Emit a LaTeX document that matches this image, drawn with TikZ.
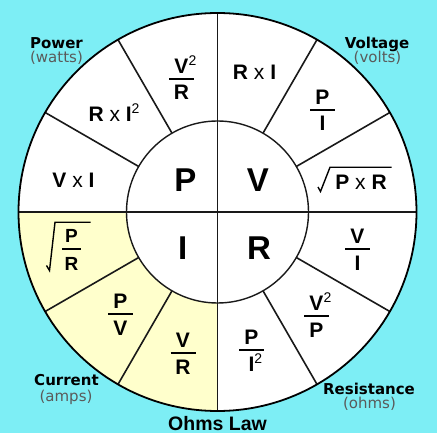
\documentclass[tikz,border=0pt]{standalone}
\usepackage{fontspec}
\setmainfont{Liberation Sans}
\newfontfamily\dv{DejaVu Sans}
\definecolor{bgc}{RGB}{125,238,245}
\definecolor{yel}{RGB}{255,255,204}
\definecolor{subc}{RGB}{90,90,90}
\definecolor{linec}{RGB}{25,25,25}
\newcommand\sq{{\fontsize{14}{14}\selectfont\mdseries\raisebox{8pt}{2}}}
\newcommand\xx{{\mdseries x}}
\newcommand\frc[6]{%
  \node[fnum] (#1n) at (#2,#3-5.5) {#4};
  \node[fnum] (#1d) at (#2,#3+21) {#5};
  \draw[fbar] (#2-#6,#3) -- (#2+#6,#3);}
\begin{document}
\begin{tikzpicture}[x=1pt,y=-1pt,
  big/.style={font=\fontsize{33}{33}\selectfont\bfseries, anchor=base, inner sep=0pt},
  fnum/.style={font=\fontsize{21}{21}\selectfont\bfseries, anchor=base, inner sep=0pt},
  fsmall/.style={font=\fontsize{19}{19}\selectfont\bfseries, anchor=base, inner sep=0pt},
  fbar/.style={line width=1.6pt, draw=black},
  lab/.style={font=\dv\fontsize{15}{15}\selectfont\bfseries, anchor=base, inner sep=0pt},
  sub/.style={font=\dv\fontsize{15}{15}\selectfont, text=subc, anchor=base, inner sep=0pt},
  ttl/.style={font=\fontsize{19.5}{20}\selectfont\bfseries, anchor=base, inner sep=0pt},
  rad/.style={line width=1.6pt, draw=linec},
  radl/.style={line width=1.4pt, draw=black},
  ]
\useasboundingbox (0,0) rectangle (437,433);
\fill[bgc] (0,0) rectangle (437,433);
\coordinate (C) at (217.5,212);
\fill[white] (C) circle[radius=199];
\fill[yel] (C) -- ++(90:199) arc[start angle=90,end angle=180,radius=199] -- cycle;
\fill[white] (C) circle[radius=91];
\foreach \a in {30,60,120,150,210,240,300,330}
  \draw[rad] (C) ++(\a:91) -- ++(\a:108);
\draw[line width=1.4pt, draw=linec] (C) circle[radius=91];
\draw[line width=1.5pt, draw=linec] (C) ++(-199,0) -- ++(398,0);
\draw[line width=1.5pt, draw=linec] (C) ++(0,-199) -- ++(0,398);
\draw[line width=1.8pt, draw=black] (C) circle[radius=199];
% centre letters
\node[big] (P) at (185.5,191.5) {P};
\node[big] (V) at (258,191.5) {V};
\node[big] (I) at (182.7,259.5) {I};
\node[big] (R) at (259,259.5) {R};
% power
\frc{pa}{181.5}{79}{V\rlap{\sq}}{R}{12.5}
\node[fnum] (pb) at (114,122) {R \xx\ I\sq};
\node[fnum] (pc) at (73.5,187.7) {V \xx\ I};
% voltage
\node[fnum] (va) at (254.5,80) {R \xx\ I};
\frc{vb}{322.5}{110}{P}{I}{12.5}
\node[fnum] (vc) at (361,189.3) {P \xx\ R};
\draw[radl] (318,187) -- (320.5,191.5) -- (330,167.3) -- (391.5,167.3);
% current
\node[fsmall] (can) at (71.5,242.7) {P};
\node[fsmall] (cad) at (71.5,270) {R};
\draw[fbar] (62,249) -- (81,249);
\draw[radl] (46.5,265.5) -- (49.5,270.5) -- (55,222.3) -- (90.7,222.3);
\frc{cb}{120.5}{314}{P}{V}{12.5}
\frc{cc}{183}{353}{V}{R}{12.5}
% resistance
\frc{ra}{357.5}{249}{V}{I}{12.5}
\frc{rb}{316.5}{316}{V\rlap{\sq}}{P}{12.5}
\frc{rc}{251.5}{350}{P}{I\rlap{\sq}}{12.5}
% labels
\node[lab] (pw) at (56.5,48.3) {Power};
\node[sub] (pwu) at (56.5,63) {(watts)};
\node[lab] (vl) at (377,48.3) {Voltage};
\node[sub] (vlu) at (377.5,63) {(volts)};
\node[lab] (cu) at (66.5,385.7) {Current};
\node[sub] (cuu) at (66,401) {(amps)};
\node[lab] (rs) at (369,394) {Resistance};
\node[sub] (rsu) at (369.5,408.5) {(ohms)};
\node[ttl] (tt) at (217.5,430) {Ohms Law};
\end{tikzpicture}
\end{document}
